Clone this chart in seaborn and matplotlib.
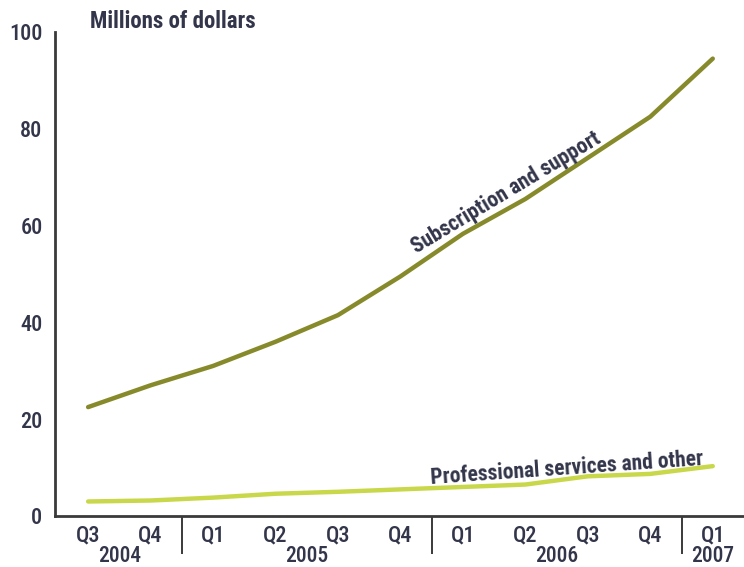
import matplotlib
matplotlib.use("Agg")
import matplotlib.pyplot as plt
import matplotlib.transforms as mtransforms
import seaborn as sns
import pandas as pd

# Quarterly revenue by segment, millions of dollars
quarters = ["Q3", "Q4", "Q1", "Q2", "Q3", "Q4", "Q1", "Q2", "Q3", "Q4", "Q1"]
years = ["2004", "2005", "2006", "2007"]
year_centers = [0.5, 3.5, 7.5, 10.0]
year_breaks = [1.5, 5.5, 9.5]
subscription = [22.5, 27.0, 31.0, 36.0, 41.5, 49.5, 58.3, 65.5, 74.0, 82.5, 94.5]
professional = [3.0, 3.2, 3.8, 4.6, 5.0, 5.5, 6.0, 6.5, 8.2, 8.7, 10.3]
series_names = ["Subscription and support", "Professional services and other"]
series_colors = ["#878a2b", "#c9d84b"]

sns.set_theme(style="white")
plt.rcParams["font.family"] = ["Roboto Condensed", "Liberation Sans Narrow", "Roboto", "DejaVu Sans"]
plt.rcParams["font.stretch"] = "condensed"

text_color = "#33364a"
axis_color = "#3a3a3a"
tick_size = 16

df = pd.DataFrame({
    "idx": list(range(len(quarters))) * 2,
    "value": subscription + professional,
    "series": [series_names[0]] * len(quarters) + [series_names[1]] * len(quarters),
})

fig = plt.figure(figsize=(7.44, 5.67), dpi=100)
ax = fig.add_axes([55 / 744, 1 - 516 / 567, 1 - 55 / 744, (516 - 32) / 567])

sns.lineplot(data=df, x="idx", y="value", hue="series", palette=series_colors,
             hue_order=series_names, linewidth=3.2, legend=False, ax=ax)

ax.set_xlim(-0.53, 10.5)
ax.set_ylim(0, 100)
ax.set_xlabel("")
ax.set_ylabel("")

for side in ["top", "right"]:
    ax.spines[side].set_visible(False)
for side in ["left", "bottom"]:
    ax.spines[side].set_color(axis_color)
    ax.spines[side].set_linewidth(2.0)

ax.set_yticks([0, 20, 40, 60, 80, 100])
ax.tick_params(axis="y", direction="in", length=14, width=1.4, color=axis_color,
               labelsize=tick_size, labelcolor=text_color, pad=9)
for t in ax.get_yticklabels():
    t.set_fontweight("medium")

ax.set_xticks(range(len(quarters)))
ax.set_xticklabels(quarters)
ax.set_xticks(year_breaks, minor=True)
ax.tick_params(axis="x", which="major", length=0, labelsize=tick_size,
               labelcolor=text_color, pad=6)
ax.tick_params(axis="x", which="minor", direction="out", length=27, width=1.4,
               color=axis_color, bottom=True)
for t in ax.get_xticklabels():
    t.set_fontweight("medium")

trans = mtransforms.blended_transform_factory(ax.transData, ax.transAxes)
for yr, xc in zip(years, year_centers):
    ax.text(xc, -0.082, yr, transform=trans, ha="center", va="center",
            fontsize=15.5, fontweight="medium", color=text_color)

fig.text(90 / 744, 1 - 22 / 567, "Millions of dollars", ha="left", va="center",
         fontsize=16.5, fontweight="bold", color=text_color)

ax.text(6.7, 66.8, series_names[0], rotation=31, rotation_mode="anchor",
        ha="center", va="center", fontsize=15.5, fontweight="bold", color=text_color)
ax.text(7.66, 9.9, series_names[1], rotation=4, rotation_mode="anchor",
        ha="center", va="center", fontsize=15.5, fontweight="bold", color=text_color)

fig.savefig("out.png", dpi=100)
